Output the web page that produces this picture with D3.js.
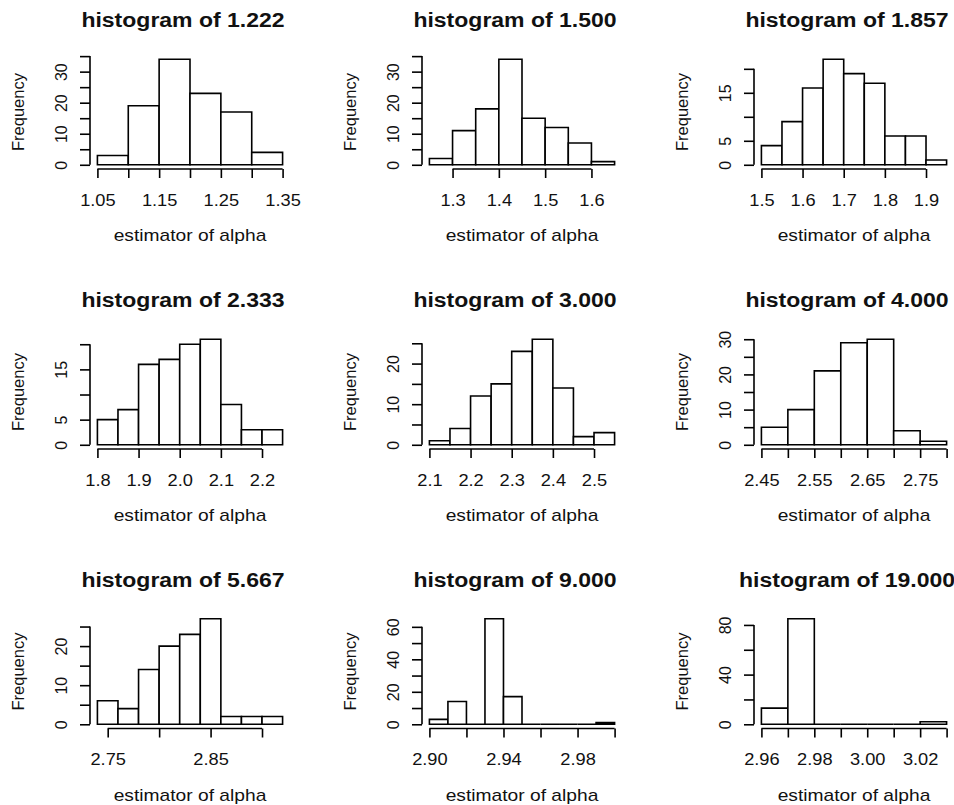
<!DOCTYPE html>
<html>
<head>
<meta charset="utf-8">
<script src="https://cdn.jsdelivr.net/npm/d3@7"></script>
<style>
body { margin: 0; background: #fff; }
text { font-family: "Liberation Sans", Arial, sans-serif; fill: #111; }
</style>
</head>
<body>
<div id="chart"></div>
<script>
// one entry per panel, row by row
var titles = ["histogram of 1.222", "histogram of 1.500", "histogram of 1.857",
	"histogram of 2.333", "histogram of 3.000", "histogram of 4.000",
	"histogram of 5.667", "histogram of 9.000", "histogram of 19.000"];
var breakStart = [1.05, 1.25, 1.50, 1.80, 2.10, 2.45, 2.74, 2.90, 2.96];
var binWidth = [0.05, 0.05, 0.05, 0.05, 0.05, 0.05, 0.02, 0.01, 0.01];
var counts = [
	[3, 19, 34, 23, 17, 4],
	[2, 11, 18, 34, 15, 12, 7, 1],
	[4, 9, 16, 22, 19, 17, 6, 6, 1],
	[5, 7, 16, 17, 20, 21, 8, 3, 3],
	[1, 4, 12, 15, 23, 26, 14, 2, 3],
	[5, 10, 21, 29, 30, 4, 1],
	[6, 4, 14, 20, 23, 27, 2, 2, 2],
	[3, 14, 0, 65, 17, 0, 0, 0, 0, 1],
	[13, 85, 0, 0, 0, 0, 2]
];
var xTicks = [
	[1.05, 1.10, 1.15, 1.20, 1.25, 1.30, 1.35],
	[1.3, 1.4, 1.5, 1.6],
	[1.5, 1.6, 1.7, 1.8, 1.9],
	[1.8, 1.9, 2.0, 2.1, 2.2],
	[2.1, 2.2, 2.3, 2.4, 2.5],
	[2.45, 2.50, 2.55, 2.60, 2.65, 2.70, 2.75, 2.80],
	[2.75, 2.80, 2.85, 2.90],
	[2.90, 2.92, 2.94, 2.96, 2.98, 3.00],
	[2.96, 2.97, 2.98, 2.99, 3.00, 3.01, 3.02, 3.03]
];
var xLabels = [
	["1.05", "", "1.15", "", "1.25", "", "1.35"],
	["1.3", "1.4", "1.5", "1.6"],
	["1.5", "1.6", "1.7", "1.8", "1.9"],
	["1.8", "1.9", "2.0", "2.1", "2.2"],
	["2.1", "2.2", "2.3", "2.4", "2.5"],
	["2.45", "", "2.55", "", "2.65", "", "2.75", ""],
	["2.75", "", "2.85", ""],
	["2.90", "", "2.94", "", "2.98", ""],
	["2.96", "", "2.98", "", "3.00", "", "3.02", ""]
];
var yTicks = [
	[0, 5, 10, 15, 20, 25, 30, 35],
	[0, 5, 10, 15, 20, 25, 30, 35],
	[0, 5, 10, 15, 20],
	[0, 5, 10, 15, 20],
	[0, 5, 10, 15, 20, 25],
	[0, 5, 10, 15, 20, 25, 30],
	[0, 5, 10, 15, 20, 25],
	[0, 10, 20, 30, 40, 50, 60],
	[0, 20, 40, 60, 80]
];
var yLabels = [
	["0", "", "10", "", "20", "", "30", ""],
	["0", "", "10", "", "20", "", "30", ""],
	["0", "5", "", "15", ""],
	["0", "5", "", "15", ""],
	["0", "", "10", "", "20", ""],
	["0", "", "10", "", "20", "", "30"],
	["0", "", "10", "", "20", ""],
	["0", "", "20", "", "40", "", "60"],
	["0", "", "40", "", "80"]
];
var xTitle = "estimator of alpha";
var yTitle = "Frequency";

var width = 954, height = 805;
var colLeft = [90, 422, 754];
var rowTop = [55, 335, 614.5];
var plotW = 200, plotH = 114;
var lw = 1.6;
var stretchK = 1.14; // the picture's text is a bit wider than Arial

function stretch(sel, k) {
	sel.each(function() {
		var w = this.getComputedTextLength();
		if (w > 0) d3.select(this).attr("textLength", w * k).attr("lengthAdjust", "spacingAndGlyphs");
	});
}

var svg = d3.select("#chart").append("svg")
	.attr("width", width)
	.attr("height", height);
svg.append("rect").attr("width", width).attr("height", height).attr("fill", "#fff");

titles.forEach(function(title, p) {
	var left = colLeft[p % 3], top = rowTop[Math.floor(p / 3)];
	var n = counts[p].length;
	var x0 = breakStart[p], x1 = breakStart[p] + n * binWidth[p];
	var pad = (x1 - x0) * 0.04;
	var ymax = d3.max(counts[p]);

	var x = d3.scaleLinear().domain([x0 - pad, x1 + pad]).range([0, plotW]);
	var y = d3.scaleLinear().domain([-ymax * 0.04, ymax * 1.04]).range([plotH, 0]);

	var g = svg.append("g").attr("transform", "translate(" + left + "," + top + ")");

	// bars (paths so that empty bins still show on the baseline)
	var bins = counts[p].map(function(c, i) {
		return { a: breakStart[p] + i * binWidth[p], b: breakStart[p] + (i + 1) * binWidth[p], c: c };
	});
	g.selectAll(".bar").data(bins).enter().append("path")
		.attr("class", "bar")
		.attr("d", function(d) {
			return "M" + x(d.a) + "," + y(0) + "V" + y(d.c) + "H" + x(d.b) + "V" + y(0) + "Z";
		})
		.attr("fill", "#fff")
		.attr("stroke", "#000")
		.attr("stroke-width", lw);

	// x axis
	var xa = g.append("g").attr("transform", "translate(0," + plotH + ")")
		.call(d3.axisBottom(x).tickValues(xTicks[p]).tickSize(9).tickSizeOuter(0)
			.tickFormat(function(d, i) { return xLabels[p][i]; }));
	xa.select(".domain").remove();
	xa.append("line")
		.attr("x1", x(xTicks[p][0])).attr("x2", x(xTicks[p][xTicks[p].length - 1]))
		.attr("stroke", "#000").attr("stroke-width", lw);
	xa.selectAll(".tick line").attr("stroke", "#000").attr("stroke-width", lw);
	xa.selectAll(".tick text")
		.attr("y", 36.5).attr("dy", null)
		.attr("font-size", "16px")
		.attr("fill", "#111")
		.style("font-family", "'Liberation Sans', Arial, sans-serif")
		.call(stretch, stretchK);

	// y axis
	var ya = g.append("g")
		.call(d3.axisLeft(y).tickValues(yTicks[p]).tickSize(10).tickSizeOuter(0)
			.tickFormat(function(d, i) { return yLabels[p][i]; }));
	ya.select(".domain").remove();
	ya.append("line")
		.attr("y1", y(yTicks[p][0])).attr("y2", y(yTicks[p][yTicks[p].length - 1]))
		.attr("stroke", "#000").attr("stroke-width", lw);
	ya.selectAll(".tick line").attr("stroke", "#000").attr("stroke-width", lw);
	ya.selectAll(".tick text")
		.attr("transform", "rotate(-90)")
		.attr("x", 0).attr("y", -23).attr("dy", null)
		.attr("text-anchor", "middle")
		.attr("font-size", "16px")
		.attr("fill", "#111")
		.style("font-family", "'Liberation Sans', Arial, sans-serif");

	// title and axis titles
	g.append("text")
		.attr("x", plotW / 2 - 7).attr("y", -28)
		.attr("text-anchor", "middle")
		.attr("font-size", "20px")
		.attr("font-weight", "bold")
		.text(title)
		.call(stretch, 1.15);
	g.append("text")
		.attr("x", plotW / 2).attr("y", plotH + 72)
		.attr("text-anchor", "middle")
		.attr("font-size", "17px")
		.text(xTitle)
		.call(stretch, 1.13);
	g.append("text")
		.attr("transform", "translate(-66," + (plotH / 2) + ") rotate(-90)")
		.attr("text-anchor", "middle")
		.attr("font-size", "16.5px")
		.text(yTitle);
});
</script>
</body>
</html>
